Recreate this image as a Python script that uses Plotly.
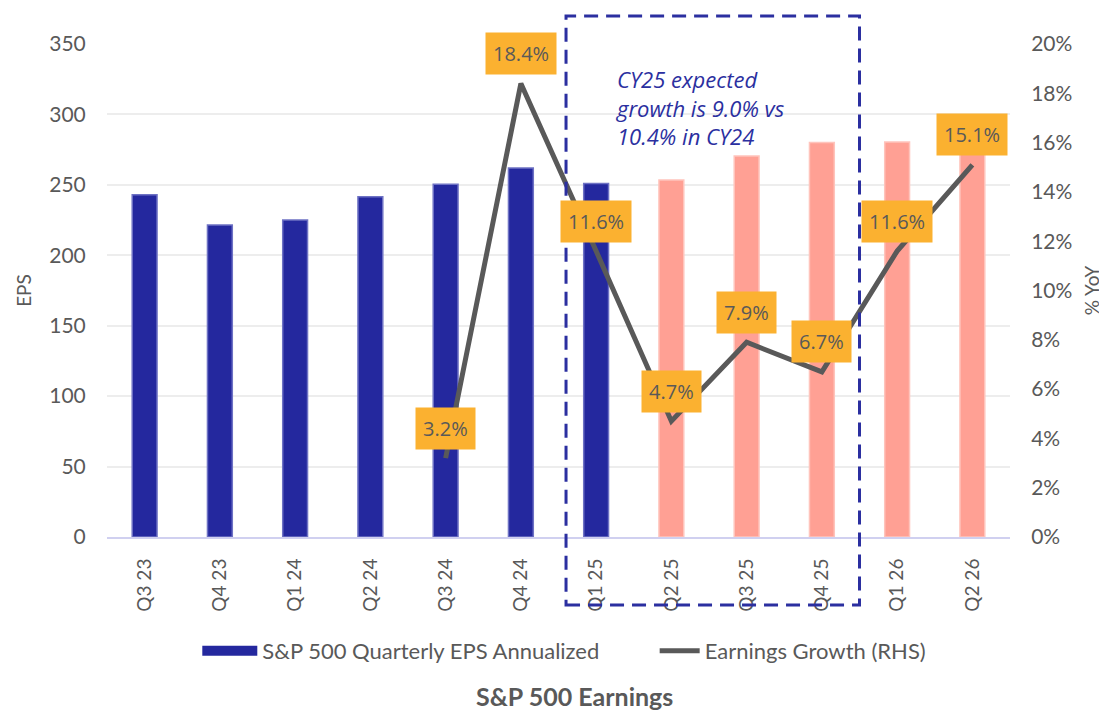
import plotly.graph_objects as go

quarters = ["Q3 23", "Q4 23", "Q1 24", "Q2 24", "Q3 24", "Q4 24",
            "Q1 25", "Q2 25", "Q3 25", "Q4 25", "Q1 26", "Q2 26"]
eps = [243, 221.5, 225, 241.5, 250.5, 262, 251, 253.5, 270.5, 280, 280.5, 283]
is_estimate = [False] * 7 + [True] * 5
growth_quarters = ["Q3 24", "Q4 24", "Q1 25", "Q2 25", "Q3 25", "Q4 25", "Q1 26", "Q2 26"]
growth = [0.032, 0.184, 0.116, 0.047, 0.079, 0.067, 0.116, 0.151]
growth_labels = ["3.2%", "18.4%", "11.6%", "4.7%", "7.9%", "6.7%", "11.6%", "15.1%"]

BLUE = "#24289E"
SALMON = "#FFA094"
GRAY = "#595959"
ORANGE = "#FBB130"
FONT = "Lato"

bar_colors = [SALMON if e else BLUE for e in is_estimate]
bar_lines = ["#FFC4BC" if e else "#6E72C4" for e in is_estimate]

fig = go.Figure()
fig.add_trace(go.Bar(
    x=quarters, y=eps, name="S&P 500 Quarterly EPS Annualized",
    marker=dict(color=bar_colors, line=dict(color=bar_lines, width=1.5)),
    width=0.33, yaxis="y", showlegend=False,
))
# legend-only entry giving a wide rectangular swatch for the bars
fig.add_trace(go.Scatter(
    x=[None], y=[None], name="S&P 500 Quarterly EPS Annualized",
    mode="lines", line=dict(color=BLUE, width=13), legend="legend",
))
fig.add_trace(go.Scatter(
    x=growth_quarters, y=growth, name="Earnings Growth (RHS)",
    mode="lines", line=dict(color=GRAY, width=5), yaxis="y2", legend="legend2",
))

for q, g, t in zip(growth_quarters, growth, growth_labels):
    fig.add_annotation(
        x=q, y=g, xref="x", yref="y2", text=t, showarrow=False,
        yshift=30, bgcolor=ORANGE, borderpad=7,
        font=dict(family="Open Sans", size=20, color=GRAY),
    )

# dashed highlight box around CY25
fig.add_shape(type="rect", xref="x", yref="paper",
              x0=5.6, x1=9.5, y0=-0.138, y1=1.057,
              line=dict(color="#2B2FA0", width=3, dash="14px,8px"),
              fillcolor="rgba(0,0,0,0)", layer="above")

fig.add_annotation(
    x=6.22, y=0.872, xref="x", yref="paper", xanchor="left", yanchor="middle",
    text="CY25 expected<br>growth is 9.0% vs<br>10.4% in CY24",
    showarrow=False, align="left",
    font=dict(family="Open Sans", size=22, color="#2B2FA0", style="italic"),
)

fig.add_annotation(
    x=0.518, y=-0.356, xref="paper", yref="paper", text="<b>S&P 500 Earnings</b>",
    showarrow=False, font=dict(family=FONT, size=25, color=GRAY),
)

legend_common = dict(orientation="h", yanchor="middle", y=-0.231, xanchor="left",
                     font=dict(size=22, color=GRAY, family=FONT),
                     bgcolor="rgba(0,0,0,0)")

fig.update_layout(
    width=1099, height=706,
    margin=dict(l=99, r=97, t=36, b=177, autoexpand=False),
    paper_bgcolor="white", plot_bgcolor="white",
    font=dict(family=FONT, color=GRAY, size=18),
    showlegend=True,
    legend=dict(x=0.1, itemwidth=55, **legend_common),
    legend2=dict(x=0.6065, itemwidth=40, **legend_common),
    xaxis=dict(
        type="category", tickangle=-90, showgrid=False, automargin=False,
        showline=True, linecolor="#D0D0F0", linewidth=2,
        ticks="outside", ticklen=12, tickcolor="rgba(0,0,0,0)",
        tickfont=dict(size=19, color=GRAY),
        range=[-0.5, 11.5],
    ),
    yaxis=dict(
        range=[0, 350], dtick=50, showgrid=True, gridcolor="#EDEDED", gridwidth=1.5,
        zeroline=False, automargin=False,
        title=dict(text="EPS", font=dict(size=19, color=GRAY), standoff=12),
        ticks="outside", ticklen=16, tickcolor="rgba(0,0,0,0)",
        tickfont=dict(size=21, color=GRAY),
    ),
    yaxis2=dict(
        range=[0, 0.2], dtick=0.02, tickformat=".0%", overlaying="y", side="right",
        showgrid=False, zeroline=False, automargin=False,
        title=dict(text="% YoY", font=dict(size=19, color=GRAY), standoff=14),
        ticks="outside", ticklen=16, tickcolor="rgba(0,0,0,0)",
        tickfont=dict(size=21, color=GRAY),
    ),
)

fig.write_html("out.html")
